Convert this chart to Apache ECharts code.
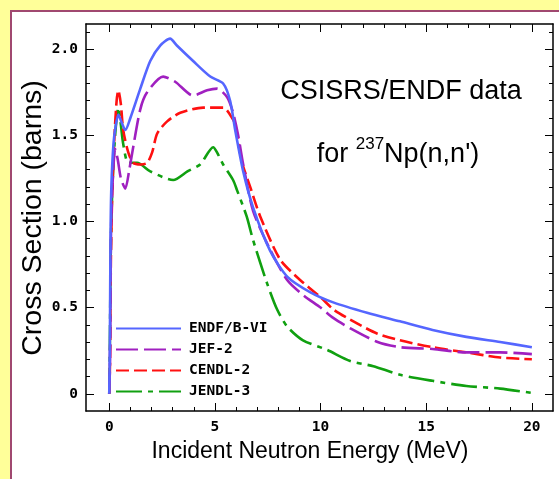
<!DOCTYPE html>
<html>
<head>
<meta charset="utf-8">
<script src="https://cdn.jsdelivr.net/npm/echarts@6/dist/echarts.min.js"></script>
<style>
  html, body { margin: 0; padding: 0; width: 559px; height: 479px; overflow: hidden; background: #FFFF99; }
  #panel { position: absolute; left: 10px; top: 10px; width: 600px; height: 520px; background: #ffffff; border: 2px solid #A04870; }
  #chart { position: absolute; left: 0; top: 0; width: 559px; height: 479px; }
</style>
</head>
<body>
<div id="panel"></div>
<div id="chart"></div>
<script>
// ---- data ----
const seriesNames = ['ENDF/B-VI', 'JEF-2', 'CENDL-2', 'JENDL-3'];
const xTickLabels = [0, 5, 10, 15, 20];
const yTickLabels = [0, 0.5, 1.0, 1.5, 2.0];

const endfE  = [0, 0.03, 0.06, 0.1, 0.2, 0.3, 0.43, 0.6, 0.76, 1.0, 1.47, 1.94, 2.41, 2.88, 3.2, 3.97, 4.78, 5.39, 5.72, 5.96, 6.34, 6.81, 7.61, 8.42, 9.5, 10.6, 12.2, 13.76, 15.3, 16.9, 18.5, 20.0];
const endfXS = [0, 0.3, 0.9, 1.2, 1.45, 1.55, 1.62, 1.57, 1.53, 1.6, 1.77, 1.93, 2.02, 2.06, 2.02, 1.93, 1.84, 1.80, 1.70, 1.53, 1.29, 1.08, 0.83, 0.68, 0.59, 0.53, 0.47, 0.42, 0.37, 0.33, 0.30, 0.27];

const jefE  = [0, 0.04, 0.08, 0.15, 0.28, 0.4, 0.55, 0.76, 0.95, 1.09, 1.47, 1.8, 2.55, 3.12, 3.97, 4.63, 5.1, 5.58, 5.86, 6.1, 6.34, 6.81, 7.6, 8.42, 9.2, 10.0, 10.6, 11.4, 12.7, 13.76, 15.3, 16.9, 18.5, 20.0];
const jefXS = [0, 0.2, 0.9, 1.2, 1.42, 1.36, 1.25, 1.19, 1.3, 1.40, 1.65, 1.75, 1.84, 1.81, 1.73, 1.76, 1.77, 1.72, 1.63, 1.50, 1.33, 1.06, 0.84, 0.66, 0.57, 0.50, 0.44, 0.38, 0.30, 0.27, 0.26, 0.24, 0.24, 0.23];

const cendlE  = [0, 0.04, 0.08, 0.15, 0.25, 0.35, 0.43, 0.55, 0.66, 0.9, 1.13, 1.5, 1.8, 2.03, 2.27, 2.74, 3.36, 4.44, 5.39, 5.86, 5.96, 6.29, 6.67, 7.14, 8.08, 9.03, 10.0, 10.6, 11.4, 12.67, 13.76, 15.3, 16.9, 18.5, 20.0];
const cendlXS = [0, 0.2, 0.8, 1.2, 1.5, 1.7, 1.76, 1.68, 1.53, 1.40, 1.34, 1.33, 1.34, 1.40, 1.51, 1.58, 1.63, 1.66, 1.66, 1.59, 1.55, 1.34, 1.20, 1.03, 0.78, 0.66, 0.56, 0.49, 0.43, 0.35, 0.31, 0.27, 0.24, 0.21, 0.20];

const jendlE  = [0, 0.03, 0.08, 0.15, 0.25, 0.35, 0.43, 0.55, 0.66, 0.9, 1.32, 1.94, 3.03, 3.7, 4.3, 4.92, 5.1, 5.39, 5.86, 6.05, 6.5, 6.81, 7.47, 7.94, 8.42, 9.17, 10.3, 11.4, 12.5, 13.76, 15.3, 16.9, 18.5, 20.0];
const jendlXS = [0, 0.3, 0.9, 1.2, 1.45, 1.6, 1.66, 1.56, 1.45, 1.34, 1.34, 1.29, 1.24, 1.29, 1.33, 1.43, 1.40, 1.33, 1.24, 1.18, 1.03, 0.89, 0.64, 0.49, 0.39, 0.31, 0.255, 0.19, 0.16, 0.11, 0.075, 0.045, 0.03, 0.005];

// ---- styling / layout ----
const zip = (a, b) => a.map((v, i) => [v, b[i]]);
const colors = ['#5566FF', '#A020C0', '#FF1010', '#10A010'];
const dashes = ['solid', [22, 6], [13, 5], [26, 6, 5, 6]];
const monoFont = '"DejaVu Sans Mono", "Liberation Mono", monospace';
const sansFont = '"Liberation Sans", Arial, Helvetica, sans-serif';

const X_MIN = -1.1, X_MAX = 21.0, Y_MIN = -0.1, Y_MAX = 2.145;
const xMinor = [];
for (let i = 1; i <= 20; i++) if (i % 5 !== 0) xMinor.push(i);
const yMinor = [];
for (let i = 1; i <= 21; i++) if (i % 5 !== 0) yMinor.push(i / 10);

const axisLineStyle = { color: '#000', width: 1.5 };

function xAx(pos, ticks, len, withLabels, showLine) {
  return {
    type: 'value', position: pos, min: X_MIN, max: X_MAX,
    axisLine: { show: showLine, onZero: false, lineStyle: axisLineStyle },
    axisTick: { show: true, inside: true, length: len, customValues: ticks, lineStyle: { color: '#000', width: 1 } },
    axisLabel: withLabels ? {
      show: true, customValues: xTickLabels, margin: 9,
      fontFamily: monoFont, fontWeight: 'bold', fontSize: 14.5, color: '#000',
      formatter: v => String(Math.round(v))
    } : { show: false },
    splitLine: { show: false }
  };
}
function yAx(pos, ticks, len, withLabels, showLine) {
  return {
    type: 'value', position: pos, min: Y_MIN, max: Y_MAX,
    axisLine: { show: showLine, onZero: false, lineStyle: axisLineStyle },
    axisTick: { show: true, inside: true, length: len, customValues: ticks, lineStyle: { color: '#000', width: 1 } },
    axisLabel: withLabels ? {
      show: true, customValues: yTickLabels, margin: 8,
      fontFamily: monoFont, fontWeight: 'bold', fontSize: 14.5, color: '#000',
      formatter: v => (Math.abs(v) < 1e-9 ? '0' : v.toFixed(1))
    } : { show: false },
    splitLine: { show: false }
  };
}

const dataSets = [zip(endfE, endfXS), zip(jefE, jefXS), zip(cendlE, cendlXS), zip(jendlE, jendlXS)];

const chart = echarts.init(document.getElementById('chart'), null, { renderer: 'canvas' });
chart.setOption({
  backgroundColor: 'transparent',
  animation: false,
  grid: { left: 86, top: 24, right: 6, bottom: 68, containLabel: false },
  xAxis: [
    xAx('bottom', xTickLabels, 8, true, true),
    xAx('bottom', xMinor, 4, false, false),
    xAx('top', xTickLabels, 8, false, true),
    xAx('top', xMinor, 4, false, false)
  ],
  yAxis: [
    yAx('left', yTickLabels, 8, true, true),
    yAx('left', yMinor, 4, false, false),
    yAx('right', yTickLabels, 8, false, true),
    yAx('right', yMinor, 4, false, false)
  ],
  legend: {
    show: true, padding: 0,
    orient: 'vertical', left: 115, top: 321,
    itemWidth: 65, itemHeight: 14, itemGap: 6,
    data: seriesNames,
    itemStyle: { opacity: 0 },
    textStyle: { fontFamily: monoFont, fontWeight: 'bold', fontSize: 14.5, color: '#000', padding: [0, 0, 0, 3] }
  },
  series: seriesNames.map((n, i) => ({
    name: n, type: 'line', xAxisIndex: 0, yAxisIndex: 0,
    data: dataSets[i], symbol: 'none', smooth: 0.25,
    lineStyle: { color: colors[i], width: 2.6, type: dashes[i] },
    itemStyle: { color: colors[i] },
    z: 10 - i
  })),
  graphic: [
    { type: 'text', x: 401, y: 92, z: 100,
      style: { text: 'CSISRS/ENDF data', fontFamily: sansFont, fontSize: 27, fill: '#000', textAlign: 'center', textVerticalAlign: 'middle' } },
    { type: 'text', x: 398, y: 152, z: 100,
      style: { text: '{a|for }{s|237}{a|Np(n,n\')}', fontFamily: sansFont, fill: '#000', textAlign: 'center', textVerticalAlign: 'middle',
        rich: {
          a: { fontFamily: sansFont, fontSize: 27, lineHeight: 32, verticalAlign: 'bottom', fill: '#000' },
          s: { fontFamily: sansFont, fontSize: 17, lineHeight: 32, verticalAlign: 'top', fill: '#000', padding: [0, 0, 12, 0] }
        } } },
    { type: 'text', x: 310, y: 452, z: 100,
      style: { text: 'Incident Neutron Energy (MeV)', fontFamily: sansFont, fontSize: 23, fill: '#000', textAlign: 'center', textVerticalAlign: 'middle' } },
    { type: 'text', x: 33, y: 218, rotation: Math.PI / 2, z: 100,
      style: { text: 'Cross Section (barns)', fontFamily: sansFont, fontSize: 28.5, fill: '#000', textAlign: 'center', textVerticalAlign: 'middle' } }
  ]
});
</script>
</body>
</html>
